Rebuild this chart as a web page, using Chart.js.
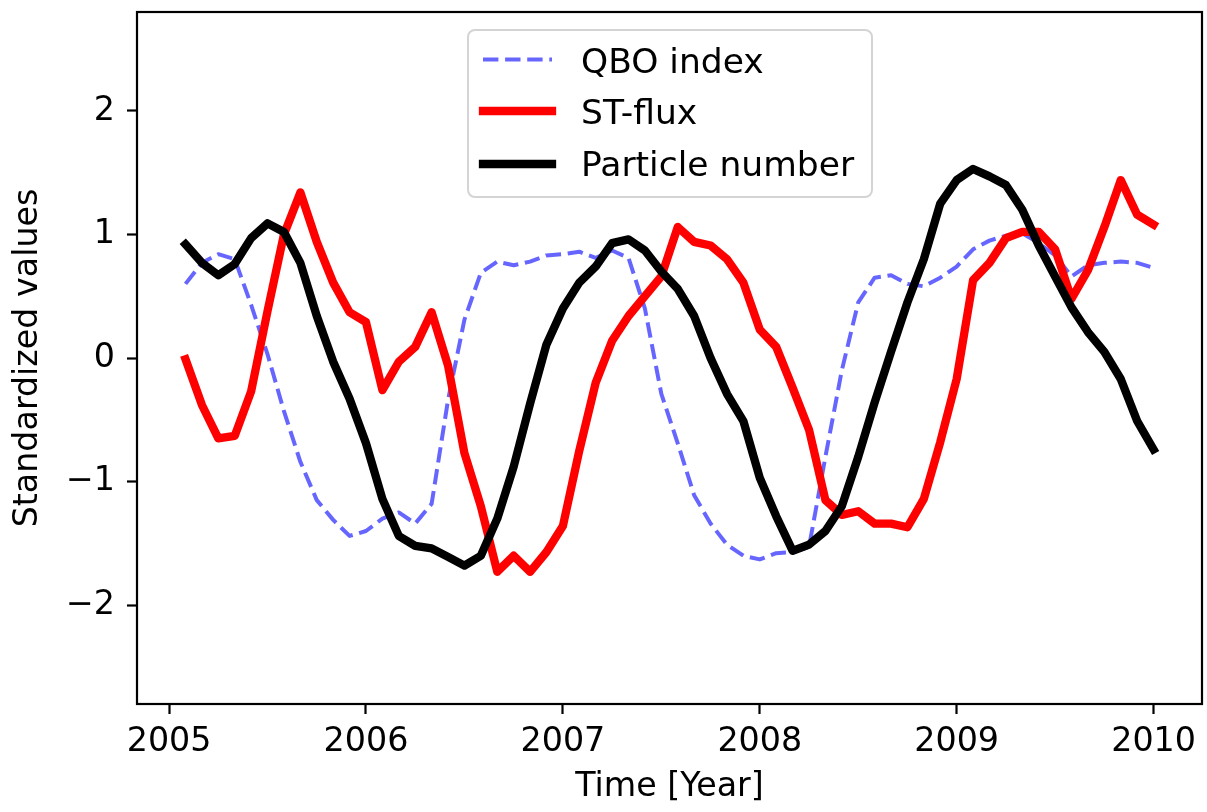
<!DOCTYPE html>
<html>
<head>
<meta charset="utf-8">
<script src="https://cdn.jsdelivr.net/npm/chart.js@4.4.1/dist/chart.umd.min.js"></script>
<style>
  html, body { margin: 0; padding: 0; background: #ffffff; }
  canvas { display: block; }
</style>
</head>
<body>
<canvas id="chart" width="1207" height="812"></canvas>
<script>
// ---- data (monthly, Feb 2005 .. Jan 2010) ----
const seriesLabels = ['QBO index', 'ST-flux', 'Particle number'];
const monthNumber = [
  1, 2, 3, 4, 5, 6, 7, 8, 9, 10, 11, 12,
  13, 14, 15, 16, 17, 18, 19, 20, 21, 22, 23, 24,
  25, 26, 27, 28, 29, 30, 31, 32, 33, 34, 35, 36,
  37, 38, 39, 40, 41, 42, 43, 44, 45, 46, 47, 48,
  49, 50, 51, 52, 53, 54, 55, 56, 57, 58, 59, 60
];
const qboIndex = [
  0.60, 0.77, 0.84, 0.80, 0.43, 0.03, -0.43, -0.84, -1.15, -1.31, -1.44, -1.40,
  -1.30, -1.25, -1.34, -1.18, -0.34, 0.31, 0.69, 0.78, 0.75, 0.78, 0.83, 0.84,
  0.86, 0.81, 0.87, 0.81, 0.40, -0.29, -0.69, -1.11, -1.34, -1.51, -1.60, -1.63,
  -1.58, -1.57, -1.53, -0.80, -0.10, 0.45, 0.65, 0.67, 0.60, 0.58, 0.65, 0.74,
  0.88, 0.95, 0.99, 1.01, 0.93, 0.83, 0.66, 0.75, 0.77, 0.78, 0.77, 0.73
];
const stFlux = [
  -0.01, -0.38, -0.65, -0.63, -0.27, 0.38, 1.00, 1.34, 0.94, 0.61, 0.37, 0.29,
  -0.26, -0.03, 0.09, 0.37, -0.06, -0.77, -1.20, -1.73, -1.60, -1.73, -1.57, -1.36,
  -0.75, -0.20, 0.14, 0.34, 0.50, 0.66, 1.06, 0.94, 0.91, 0.80, 0.61, 0.23,
  0.09, -0.24, -0.58, -1.15, -1.27, -1.24, -1.34, -1.34, -1.37, -1.14, -0.68, -0.17,
  0.63, 0.77, 0.97, 1.02, 1.02, 0.88, 0.48, 0.71, 1.06, 1.44, 1.16, 1.08
];
const particleNumber = [
  0.92, 0.77, 0.67, 0.76, 0.97, 1.09, 1.02, 0.77, 0.34, -0.03, -0.33, -0.69,
  -1.14, -1.44, -1.52, -1.54, -1.61, -1.68, -1.60, -1.30, -0.88, -0.37, 0.11, 0.40,
  0.61, 0.74, 0.93, 0.96, 0.87, 0.70, 0.56, 0.34, 0.00, -0.29, -0.51, -0.97,
  -1.28, -1.56, -1.51, -1.40, -1.20, -0.80, -0.36, 0.05, 0.45, 0.80, 1.25, 1.44,
  1.53, 1.47, 1.40, 1.20, 0.91, 0.66, 0.41, 0.21, 0.05, -0.17, -0.51, -0.74
];
const xTickYears = [2005, 2006, 2007, 2008, 2009, 2010];
const yTickValues = [-2, -1, 0, 1, 2];
const xTitle = 'Time [Year]';
const yTitle = 'Standardized values';

const baseYear = 2005;
const time = monthNumber.map(m => baseYear + m / 12);
const toPoints = vals => vals.map((v, i) => ({ x: time[i], y: v }));

const FONT = "'DejaVu Sans', 'Liberation Sans', sans-serif";
const FS = 33.3;
const LEGEND_FS = 34.5;

const framePlugin = {
  id: 'frame',
  afterDatasetsDraw(chart) {
    const { ctx, chartArea: a } = chart;
    ctx.save();
    ctx.strokeStyle = '#000';
    ctx.lineWidth = 2.2;
    ctx.strokeRect(a.left, a.top, a.right - a.left, a.bottom - a.top);
    ctx.restore();
  }
};

const legendPlugin = {
  id: 'boxLegend',
  afterDraw(chart) {
    const ctx = chart.ctx;
    const box = { x: 468, y: 30, w: 404, h: 167, r: 7 };
    ctx.save();
    ctx.beginPath();
    ctx.roundRect(box.x, box.y, box.w, box.h, box.r);
    ctx.fillStyle = 'rgba(255,255,255,0.8)';
    ctx.fill();
    ctx.strokeStyle = 'rgba(204,204,204,0.85)';
    ctx.lineWidth = 2;
    ctx.stroke();
    const lineY = [59.5, 111, 164];
    const textY = [72.5, 124.2, 176];
    chart.data.datasets.forEach((ds, i) => {
      ctx.beginPath();
      ctx.strokeStyle = ds.borderColor;
      ctx.lineWidth = ds.borderWidth;
      ctx.lineCap = ds.borderCapStyle;
      ctx.setLineDash(ds.borderDash || []);
      ctx.moveTo(483, lineY[i]);
      ctx.lineTo(552, lineY[i]);
      ctx.stroke();
      ctx.setLineDash([]);
      ctx.fillStyle = '#000';
      ctx.font = LEGEND_FS + 'px ' + FONT;
      ctx.textAlign = 'left';
      ctx.textBaseline = 'alphabetic';
      ctx.fillText(ds.label, 581, textY[i]);
    });
    ctx.restore();
  }
};

const fmtMinus = v => (v < 0 ? '\u2212' + Math.abs(v) : String(v));

new Chart(document.getElementById('chart'), {
  type: 'line',
  data: {
    datasets: [
      {
        label: seriesLabels[0],
        data: toPoints(qboIndex),
        borderColor: 'rgba(0,0,255,0.6)',
        borderWidth: 4,
        borderDash: [15.4, 6.7],
        borderCapStyle: 'butt',
        borderJoinStyle: 'round',
        pointRadius: 0,
        tension: 0,
        fill: false,
        order: 3
      },
      {
        label: seriesLabels[1],
        data: toPoints(stFlux),
        borderColor: '#ff0000',
        borderWidth: 8.3,
        borderCapStyle: 'square',
        borderJoinStyle: 'round',
        pointRadius: 0,
        tension: 0,
        fill: false,
        order: 2
      },
      {
        label: seriesLabels[2],
        data: toPoints(particleNumber),
        borderColor: '#000000',
        borderWidth: 8.3,
        borderCapStyle: 'square',
        borderJoinStyle: 'round',
        pointRadius: 0,
        tension: 0,
        fill: false,
        order: 1
      }
    ]
  },
  options: {
    responsive: false,
    animation: false,
    devicePixelRatio: 1,
    layout: { padding: { top: 12, right: 5, left: 0, bottom: 0 } },
    plugins: {
      legend: { display: false },
      tooltip: { enabled: false }
    },
    scales: {
      x: {
        type: 'linear',
        min: 2004.837,
        max: 2010.246,
        afterFit: s => { s.height = 108; s.paddingLeft = 0; s.paddingRight = 0; },
        afterBuildTicks: s => { s.ticks = xTickYears.map(v => ({ value: v })); },
        grid: {
          display: true, drawOnChartArea: false, drawTicks: true,
          tickLength: 10, tickWidth: 2.2, tickColor: '#000'
        },
        border: { display: false },
        ticks: {
          color: '#000', padding: 8, maxRotation: 0, autoSkip: false,
          font: { family: FONT, size: FS, lineHeight: 1.2 },
          callback: v => String(v)
        },
        title: {
          display: true, text: xTitle, color: '#000',
          font: { family: FONT, size: FS, lineHeight: 1.2 },
          padding: { top: 0, bottom: 5 }
        }
      },
      y: {
        type: 'linear',
        min: -2.8,
        max: 2.8,
        afterFit: s => { s.width = 137; s.paddingTop = 0; s.paddingBottom = 0; },
        afterBuildTicks: s => { s.ticks = yTickValues.map(v => ({ value: v })); },
        grid: {
          display: true, drawOnChartArea: false, drawTicks: true,
          tickLength: 10, tickWidth: 2.2, tickColor: '#000'
        },
        border: { display: false },
        ticks: {
          color: '#000', padding: 12, autoSkip: false,
          font: { family: FONT, size: FS, lineHeight: 1.2 },
          callback: v => fmtMinus(v)
        },
        title: {
          display: true, text: yTitle, color: '#000',
          font: { family: FONT, size: FS, lineHeight: 1.2 },
          padding: { top: 8.7, bottom: 0 }
        }
      }
    }
  },
  plugins: [framePlugin, legendPlugin]
});
</script>
</body>
</html>
